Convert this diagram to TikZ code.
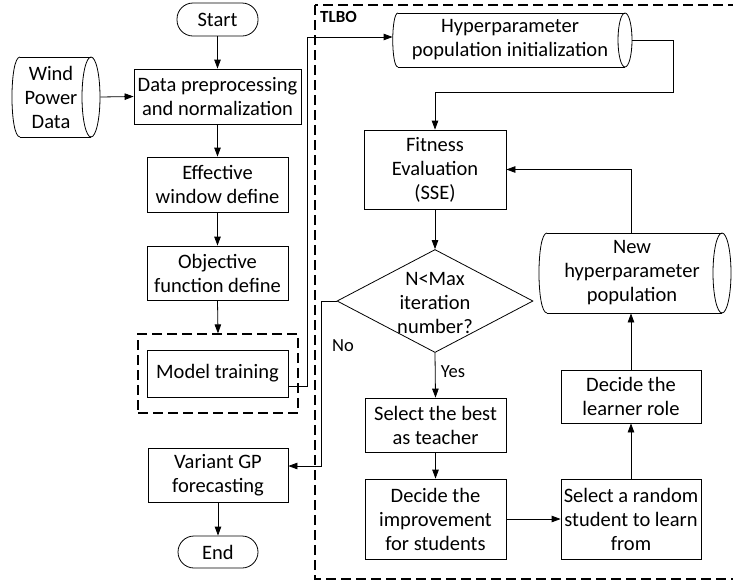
\documentclass[tikz,border=0pt]{standalone}
\usepackage{fontspec}
\setmainfont{Carlito}
\usetikzlibrary{arrows.meta,shapes.geometric,calc}
\tikzset{
  base/.style={font=\fontsize{20.5}{24}\selectfont, align=center, inner sep=0pt, line width=0.8pt},
  box/.style={base, draw, rectangle},
  term/.style={base, draw, rounded corners=16pt},
  blank/.style={base, draw=none},
  conn/.style={line width=0.8pt, -{Triangle[length=9pt,width=6.5pt]}},
  line/.style={line width=0.8pt},
  dbox/.style={line width=1.2pt, dash pattern=on 10pt off 5pt},
  lbl/.style={font=\fontsize{18.5}{22}\selectfont, inner sep=0pt}
}
\begin{document}
\begin{tikzpicture}[x=1pt,y=-1pt]
\useasboundingbox (0,0) rectangle (733,582);
\fill[white] (0,0) rectangle (733,582);

% TLBO frame
\draw[dbox] (315,5) rectangle (740,579);
\node[anchor=west, inner sep=0pt, font=\fontsize{17}{20}\selectfont\bfseries] (tlbo) at (320,17) {TLBO};

% left column
\node[term, minimum width=81pt, minimum height=33pt] (start) at (217.5,19.5) {Start};
\node[box, minimum width=167pt, minimum height=55pt] (data) at (217.5,96.5) {Data preprocessing\\and normalization};
\node[box, minimum width=141pt, minimum height=55pt] (eff) at (217.5,184.5) {Effective\\window define};
\node[box, minimum width=141pt, minimum height=54pt] (obj) at (217.5,273) {Objective\\function define};
\node[draw, dbox, minimum width=160pt, minimum height=79pt, inner sep=0pt] (mtbox) at (218,373.5) {};
\node[box, minimum width=141pt, minimum height=47pt] (mt) at (217.5,373.5) {Model training};
\node[box, minimum width=140pt, minimum height=54pt] (var) at (218,475) {Variant GP\\forecasting};
\node[term, minimum width=80pt, minimum height=32pt] (end) at (218,552) {End};

% Wind power data (storage)
\node[blank, minimum width=88pt, minimum height=80pt] (wind) at (56,97) {};
\node[blank] (windt) at (51,97) {Wind\\Power\\Data};
\draw[line] (20,57) -- (91,57) (20,137) -- (91,137);
\draw[line] (20,57) .. controls (9.3,57) and (9.3,137) .. (20,137);
\draw[line] (91,97) ellipse [x radius=9, y radius=40];

% Hyperparameter population initialization (storage)
\node[blank, minimum width=239pt, minimum height=54pt] (hpi) at (512.5,40) {};
\node[blank] (hpit) at (510,40) {Hyperparameter\\population initialization};
\draw[line] (398,13) -- (625,13) (398,67) -- (625,67);
\draw[line] (398,13) .. controls (391,13) and (391,67) .. (398,67);
\draw[line] (625,40) ellipse [x radius=7, y radius=27];

% Fitness
\node[box, minimum width=142pt, minimum height=79pt] (fit) at (435,169.5) {Fitness\\Evaluation\\(SSE)};

% Diamond
\node[base, draw, diamond, minimum width=196pt, minimum height=103pt] (dia) at (435,301) {};
\node[blank] (diat) at (435,303) {N<Max\\iteration\\number?};

\node[box, minimum width=141pt, minimum height=54pt] (best) at (435.5,425) {Select the best\\as teacher};
\node[box, minimum width=141pt, minimum height=80pt] (imp) at (435.5,519) {Decide the\\improvement\\for students};
\node[box, minimum width=140pt, minimum height=80pt] (rnd) at (631,519) {Select a random\\student to learn\\from};
\node[box, minimum width=140pt, minimum height=53pt] (lrn) at (631,396.5) {Decide the\\learner role};

% New hyperparameter population (storage)
\node[blank, minimum width=192pt, minimum height=80pt] (np) at (635,273) {};
\node[blank] (npt) at (632,273) {New\\hyperparameter\\population};
\draw[line] (547,233) -- (722,233) (547,313) -- (722,313);
\draw[line] (547,233) .. controls (536.3,233) and (536.3,313) .. (547,313);
\draw[line] (722,273) ellipse [x radius=9, y radius=40];

% labels
\node[lbl] (no) at (343,346) {No};
\node[lbl] (yes) at (453,372) {Yes};

% connectors
\draw[conn] (start) -- (data);
\draw[conn] (wind.east) -- (data.west);
\draw[conn] (data) -- (eff);
\draw[conn] (eff) -- (obj);
\draw[conn] (obj.south) -- (mtbox.north);
\draw[conn] ([yshift=-12.5pt]mt.east) -- ++(18.5,0) |- ([yshift=3pt]hpi.west);
\draw[conn] (hpi.east) -| (673,92) -| (fit.north);
\draw[conn] (fit) -- (dia);
\draw[conn] (dia.south) -- (best.north);
\draw[conn] (dia.west) -- ++(-15,0) |- ([yshift=9pt]var.east);
\draw[conn] (best) -- (imp);
\draw[conn] (imp) -- (rnd);
\draw[conn] (rnd) -- (lrn);
\draw[conn] (lrn.north) -- (lrn.north |- np.south);
\draw[conn] (lrn.north |- np.north) |- (fit.east);
\draw[conn] (var) -- (end);
\end{tikzpicture}
\end{document}
